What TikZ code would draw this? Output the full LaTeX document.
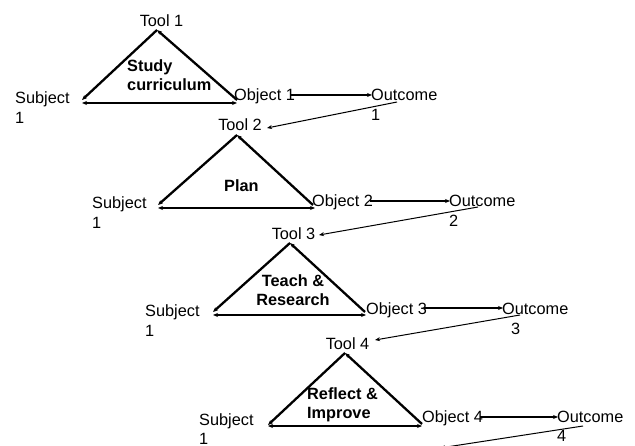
\documentclass[tikz,border=0pt]{standalone}
\usepackage{fontspec}
\setmainfont{Liberation Sans}
\usetikzlibrary{arrows.meta}
\newcommand{\lstack}[2]{\begin{tabular}[t]{@{}l@{}}#1\\#2\end{tabular}}
\newcommand{\cstack}[2]{\begin{tabular}[t]{@{}c@{}}#1\\#2\end{tabular}}
\begin{document}
\begin{tikzpicture}[x=1pt,y=-1pt,
  lbl/.style={inner sep=0pt, font=\fontsize{16.3}{20}\selectfont},
  blbl/.style={inner sep=0pt, font=\fontsize{16.3}{19}\selectfont\bfseries},
  side/.style={line width=2.3pt},
  baseln/.style={line width=1.1pt},
  flow/.style={line width=2.1pt},
  back/.style={line width=1pt},
  tip/.style={-{Stealth[length=5pt,width=4pt]}},
  tips/.style={{Stealth[length=5pt,width=4pt]}-{Stealth[length=5pt,width=4pt]}}
]
\useasboundingbox (0,0) rectangle (635,446);
\clip (0,0) rectangle (635,446);

% ---------- Triangle 1 ----------
\coordinate (t1) at (157,30);
\coordinate (s1) at (82,100);
\coordinate (o1) at (237,100);
\coordinate (sb1) at (82,103);
\coordinate (ob1) at (237,103);
\draw[side,tip] (t1) -- (s1);
\draw[side,tip] (o1) -- (t1);
\draw[baseln,tips] (sb1) -- (ob1);
\node[lbl,anchor=base] (tool1) at (161.5,27) {Tool 1};
\node[lbl,anchor=base west] (subj1) at (15,104) {\lstack{Subject}{1}};
\node[lbl,anchor=base west] (obj1) at (234,101) {Object 1};
\node[lbl,anchor=base west] (out1) at (371,101) {\lstack{Outcome}{1}};
\node[blbl,anchor=base west] (act1) at (127,72) {\lstack{Study}{curriculum}};
\coordinate (oa1) at (291,95);
\coordinate (ua1) at (372,95);
\draw[flow,tip] (oa1) -- (ua1);
\coordinate (ub1) at (397,102);
\coordinate (ta2) at (267,128);
\draw[back,tip] (ub1) -- (ta2);

% ---------- Triangle 2 ----------
\coordinate (t2) at (237,135);
\coordinate (s2) at (158,205);
\coordinate (o2) at (313,205);
\coordinate (sb2) at (158,208);
\coordinate (ob2) at (315,208);
\draw[side,tip] (t2) -- (s2);
\draw[side,tip] (o2) -- (t2);
\draw[baseln,tips] (sb2) -- (ob2);
\node[lbl,anchor=base] (tool2) at (240,130.5) {Tool 2};
\node[lbl,anchor=base west] (subj2) at (92,209) {\lstack{Subject}{1}};
\node[lbl,anchor=base west] (obj2) at (312,207) {Object 2};
\node[lbl,anchor=base west] (out2) at (449,207) {\lstack{Outcome}{2}};
\node[blbl,anchor=base west] (act2) at (224,192) {Plan};
\coordinate (oa2) at (370,201);
\coordinate (ua2) at (450,201);
\draw[flow,tip] (oa2) -- (ua2);
\coordinate (ub2) at (478,207);
\coordinate (ta3) at (319,235);
\draw[back,tip] (ub2) -- (ta3);

% ---------- Triangle 3 ----------
\coordinate (t3) at (290,243);
\coordinate (s3) at (213,312);
\coordinate (o3) at (365,312);
\coordinate (sb3) at (213,315);
\coordinate (ob3) at (366,315);
\draw[side,tip] (t3) -- (s3);
\draw[side,tip] (o3) -- (t3);
\draw[baseln,tips] (sb3) -- (ob3);
\node[lbl,anchor=base] (tool3) at (293.5,240) {Tool 3};
\node[lbl,anchor=base west] (subj3) at (145,317) {\lstack{Subject}{1}};
\node[lbl,anchor=base west] (obj3) at (366,315) {Object 3};
\node[lbl,anchor=base west] (out3) at (502,315) {\lstack{Outcome}{\hspace{9pt}3}};
\node[blbl,anchor=base] (act3) at (293,287) {\cstack{Teach \&}{Research}};
\coordinate (oa3) at (424,308);
\coordinate (ua3) at (503,308);
\draw[flow,tip] (oa3) -- (ua3);
\coordinate (ub3) at (520,315);
\coordinate (ta4) at (375,340);
\draw[back,tip] (ub3) -- (ta4);

% ---------- Triangle 4 ----------
\coordinate (t4) at (345,353);
\coordinate (s4) at (268,425);
\coordinate (o4) at (422,424);
\coordinate (sb4) at (268,426);
\coordinate (ob4) at (422,426);
\draw[side,tip] (t4) -- (s4);
\draw[side,tip] (o4) -- (t4);
\draw[baseln,tips] (sb4) -- (ob4);
\node[lbl,anchor=base] (tool4) at (347.5,350) {Tool 4};
\node[lbl,anchor=base west] (subj4) at (199,425) {\lstack{Subject}{1}};
\node[lbl,anchor=base west] (obj4) at (422,422) {Object 4};
\node[lbl,anchor=base west] (out4) at (557,422) {\lstack{Outcome}{4}};
\node[blbl,anchor=base west] (act4) at (307,400) {\lstack{Reflect \&}{Improve}};
\coordinate (oa4) at (480,417);
\coordinate (ua4) at (558,417);
\draw[flow,tip] (oa4) -- (ua4);
\coordinate (ub4) at (583,426);
\coordinate (ta5) at (440,448);
\draw[back,tip] (ub4) -- (ta5);
\end{tikzpicture}
\end{document}
